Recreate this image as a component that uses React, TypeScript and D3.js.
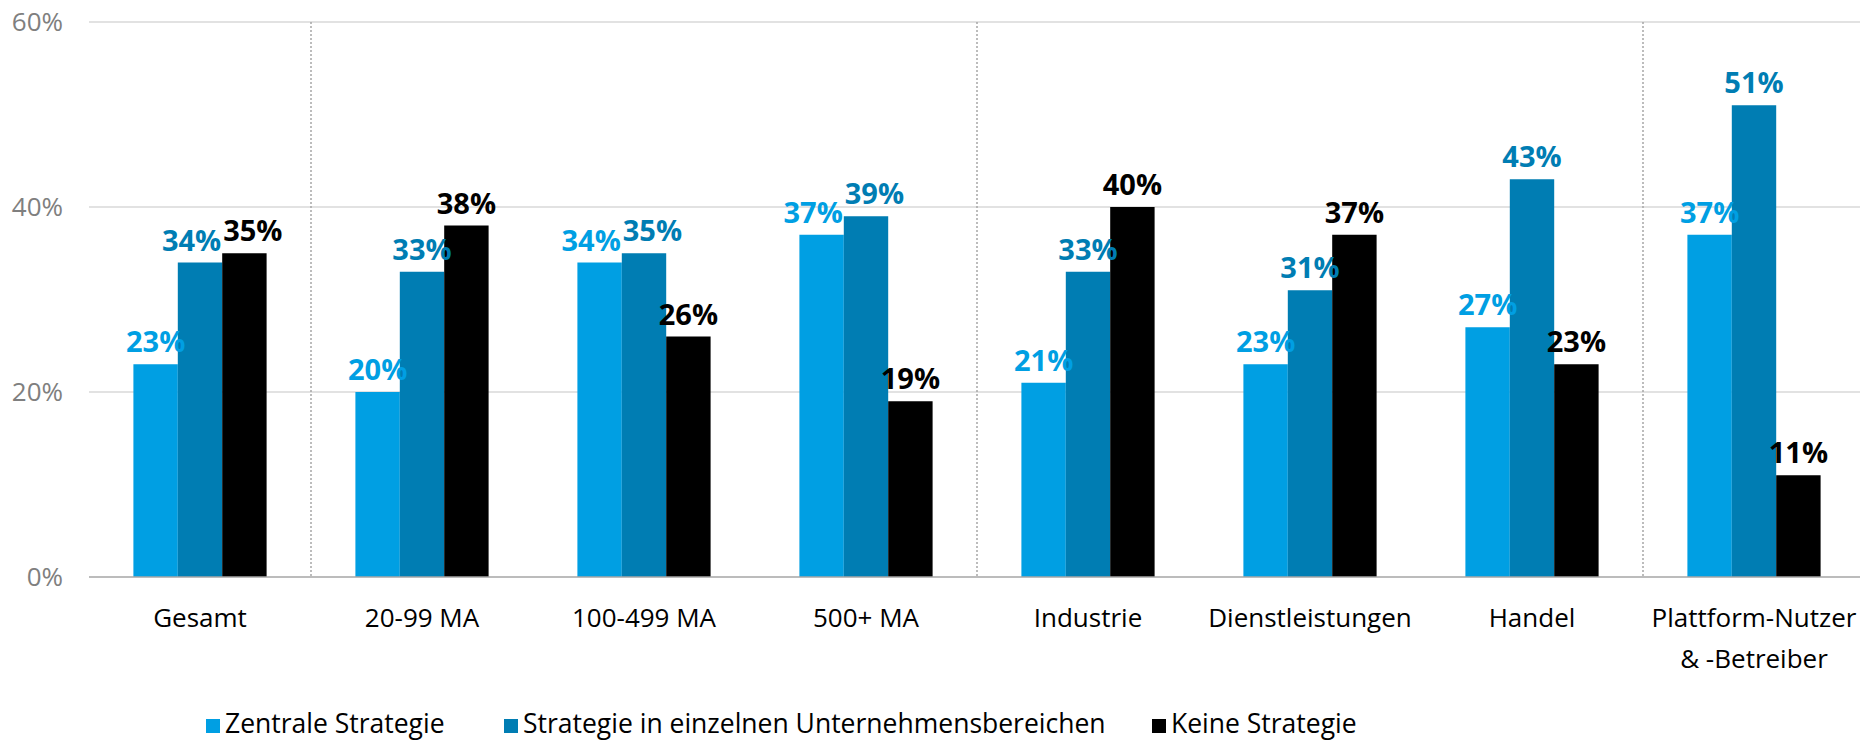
import React, { useEffect, useRef } from "react";
import * as d3 from "d3";

// Kategorien (Zeilenumbruch mit \n)
const categories = [
  "Gesamt",
  "20-99 MA",
  "100-499 MA",
  "500+ MA",
  "Industrie",
  "Dienstleistungen",
  "Handel",
  "Plattform-Nutzer\n& -Betreiber",
];

const seriesNames = [
  "Zentrale Strategie",
  "Strategie in einzelnen Unternehmensbereichen",
  "Keine Strategie",
];

const zentrale = [23, 20, 34, 37, 21, 23, 27, 37];
const einzelne = [34, 33, 35, 39, 33, 31, 43, 51];
const keine = [35, 38, 26, 19, 40, 37, 23, 11];

const yTicks = [0, 20, 40, 60];

// Trennlinien nach diesen Kategorien
const dividersAfter = ["Gesamt", "500+ MA", "Handel"];

const colors = ["#009fe3", "#007db3", "#000000"];

const W = 1860;
const H = 740;
const FONT = "'Open Sans', sans-serif";

export default function App() {
  const ref = useRef<SVGSVGElement>(null);

  useEffect(() => {
    const svg = d3.select(ref.current);
    svg.selectAll("*").remove();

    const left = 89;
    const right = 1865;
    const y0 = 577;
    const yTop = 22;

    const x = d3.scaleBand<string>()
      .domain(categories)
      .range([left, right])
      .paddingInner(0.4)
      .paddingOuter(0.2);

    const xSub = d3.scaleBand<number>()
      .domain([0, 1, 2])
      .range([0, x.bandwidth()])
      .padding(0);

    const y = d3.scaleLinear().domain([0, 60]).range([y0, yTop]);

    const data = categories.map((c, i) => ({
      cat: c,
      values: [zentrale[i], einzelne[i], keine[i]],
    }));

    // gridlines
    svg.append("g")
      .selectAll("line")
      .data(yTicks.filter(t => t > 0))
      .join("line")
      .attr("x1", left)
      .attr("x2", W)
      .attr("y1", d => y(d))
      .attr("y2", d => y(d))
      .attr("stroke", "#d9d9d9")
      .attr("stroke-width", 1.5);

    // tick labels
    svg.append("g")
      .selectAll("text")
      .data(yTicks)
      .join("text")
      .attr("x", 63)
      .attr("y", d => y(d))
      .attr("dy", "0.35em")
      .attr("text-anchor", "end")
      .attr("fill", "#7f7f7f")
      .style("font-family", FONT)
      .style("font-size", "26px")
      .text(d => d + "%");

    // dotted dividers
    const step = x.step();
    svg.append("g")
      .selectAll("line")
      .data(dividersAfter)
      .join("line")
      .attr("x1", d => (x(d) as number) + x.bandwidth() + step * 0.2)
      .attr("x2", d => (x(d) as number) + x.bandwidth() + step * 0.2)
      .attr("y1", y(60))
      .attr("y2", y0)
      .attr("stroke", "#a6a6a6")
      .attr("stroke-width", 1.5)
      .attr("stroke-dasharray", "2,2");

    // bars
    const groups = svg.append("g")
      .selectAll("g")
      .data(data)
      .join("g")
      .attr("transform", d => `translate(${x(d.cat)},0)`);

    groups.selectAll("rect")
      .data(d => d.values.map((v, k) => ({ v, k })))
      .join("rect")
      .attr("x", d => xSub(d.k) as number)
      .attr("y", d => y(d.v))
      .attr("width", xSub.bandwidth())
      .attr("height", d => y0 - y(d.v))
      .attr("fill", d => colors[d.k]);

    // baseline
    svg.append("line")
      .attr("x1", left)
      .attr("x2", W)
      .attr("y1", y0)
      .attr("y2", y0)
      .attr("stroke", "#a6a6a6")
      .attr("stroke-width", 1.5);

    // value labels with simple overlap resolution
    groups.each(function (d) {
      const g = d3.select(this);
      const labels = d.values.map((v, k) => {
        const t = g.append("text")
          .attr("x", (xSub(k) as number) + xSub.bandwidth() / 2)
          .attr("y", y(v) - 12)
          .attr("text-anchor", "middle")
          .attr("fill", colors[k])
          .style("font-family", FONT)
          .style("font-size", "29px")
          .style("font-weight", "bold")
          .text(v + "%");
        const node = t.node() as SVGTextElement;
        const w = node.getComputedTextLength();
        return { t, cx: (xSub(k) as number) + xSub.bandwidth() / 2, w, top: y(v) - 12 - 22, bottom: y(v) - 12 };
      });
      for (let k = 0; k < labels.length - 1; k++) {
        const a = labels[k];
        const b = labels[k + 1];
        const overlapX = (a.cx + a.w / 2) - (b.cx - b.w / 2);
        const overlapY = Math.min(a.bottom, b.bottom) - Math.max(a.top, b.top);
        if (overlapX > -2 && overlapY > 0) {
          const shift = (overlapX + 2) / 2;
          a.cx -= shift;
          b.cx += shift;
        }
      }
      labels.forEach(l => l.t.attr("x", l.cx));
    });

    // category labels
    const catLabels = svg.append("g")
      .selectAll("text")
      .data(categories)
      .join("text")
      .attr("x", d => (x(d) as number) + x.bandwidth() / 2)
      .attr("y", 627)
      .attr("text-anchor", "middle")
      .attr("fill", "#000")
      .style("font-family", FONT)
      .style("font-size", "26px");

    catLabels.selectAll("tspan")
      .data(d => d.split("\n").map(line => ({ line, cx: (x(d) as number) + x.bandwidth() / 2 })))
      .join("tspan")
      .attr("x", d => d.cx)
      .attr("dy", (d, i) => (i === 0 ? 0 : 41))
      .text(d => d.line);

    // legend
    const legendX = [206, 504, 1152];
    const legend = svg.append("g")
      .selectAll("g")
      .data(seriesNames)
      .join("g")
      .attr("transform", (d, i) => `translate(${legendX[i]},0)`);

    legend.append("rect")
      .attr("x", 0)
      .attr("y", 719)
      .attr("width", 14)
      .attr("height", 14)
      .attr("fill", (d, i) => colors[i]);

    legend.append("text")
      .attr("x", 19)
      .attr("y", 733)
      .attr("fill", "#000")
      .style("font-family", FONT)
      .style("font-size", "26.5px")
      .text(d => d);
  }, []);

  return (
    <svg
      ref={ref}
      width={W}
      height={H}
      style={{ position: "absolute", left: 0, top: 0, display: "block", background: "#fff" }}
    />
  );
}
